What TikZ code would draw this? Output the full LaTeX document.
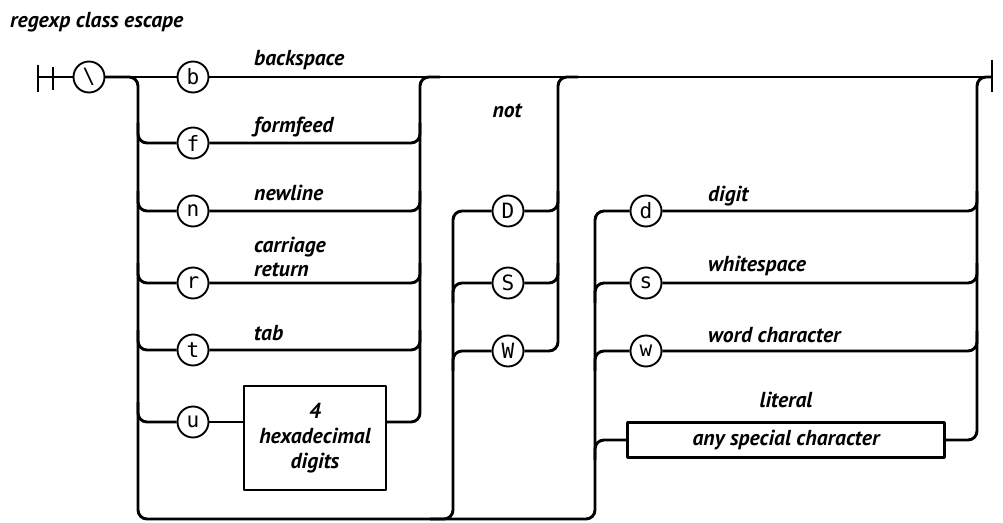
\documentclass[tikz,border=0pt]{standalone}
\usepackage{fontspec}
\setmainfont{PT Sans}
\newfontfamily\railmono{DejaVu Sans Mono}
\usetikzlibrary{calc}
\tikzset{
  term/.style={draw, circle, line width=1.6pt, inner sep=0pt, minimum size=9.3mm,
    font=\railmono\fontsize{18}{18}\selectfont},
  rulebox/.style={draw, line width=1.8pt, inner sep=0pt, align=center,
    font=\bfseries\itshape\fontsize{18.5}{21.5}\selectfont},
  rail/.style={line width=2.5pt, rounded corners=2.7mm},
  railtag/.style={anchor=base west, inner sep=0pt,
    font=\bfseries\itshape\fontsize{18.5}{20}\selectfont}
}

\begin{document}
\begin{tikzpicture}[
    x=0.3mm, y=-0.3mm,
    line join=round
  ]
  \useasboundingbox (0,0) rectangle (1003,523);

  % --- title -------------------------------------------------------------
  \node[railtag] (title) at (10,28) {regexp class escape};

  % --- terminals ---------------------------------------------------------
  \node[term] (bs) at (89,77) {\textbackslash};
  \node[term] (nb) at (193,77)  {b};
  \node[term] (nf) at (193,143) {f};
  \node[term] (nn) at (193,211) {n};
  \node[term] (nr) at (193,283) {r};
  \node[term] (nt) at (193,350) {t};
  \node[term] (nu) at (193,422) {u};
  \node[rulebox, minimum width=42.6mm, minimum height=31.2mm] (hex) at (315,438)
    {4\\hexadecimal\\digits};

  \node[term] (nD) at (508,211) {D};
  \node[term] (nS) at (508,283) {S};
  \node[term] (nW) at (508,351) {W};

  \node[term] (nd) at (646,211) {d};
  \node[term] (ns) at (646,283) {s};
  \node[term] (nw) at (646,351) {w};
  \node[rulebox, minimum width=95.1mm, minimum height=10.5mm] (lit) at (786,440)
    {any special character};

  % --- labels ------------------------------------------------------------
  \node[railtag] at (254,66)  {backspace};
  \node[railtag] at (254,133) {formfeed};
  \node[railtag] at (254,201) {newline};
  \node[railtag] at (254,253) {carriage};
  \node[railtag] at (254,277) {return};
  \node[railtag] at (254,340) {tab};
  \node[railtag, anchor=base] at (507,118) {not};
  \node[railtag] at (708,202) {digit};
  \node[railtag] at (708,272) {whitespace};
  \node[railtag] at (708,342) {word character};
  \node[railtag, anchor=base] at (786,407) {literal};

  % --- entry and exit ----------------------------------------------------
  \coordinate (beg) at (38,77);
  \coordinate (fin) at (992,77);
  \draw[rail] (38,65) -- (38,92);
  \draw[rail] (53,67) -- (53,90);
  \draw[rail] (992,60) -- (992,92);
  \draw[rail] (beg) -- (bs);
  \draw[rail] (bs) -- (nb);
  \draw[rail] (nb) -- (fin);

  % --- first choice: control escapes ------------------------------------
  \draw[rail] (bs.east) -- (138,77) -- (138,519) -- (595,519) -- (595,211) -- (nd);
  \foreach \n/\y in {nf/143, nn/211, nr/283, nt/350, nu/422} {
    \draw[rail] (138,\y-20) -- (138,\y) -- (\n);
  }
  \foreach \n/\y in {nf/143, nn/211, nr/283, nt/350} {
    \draw[rail] (\n) -- (420,\y) -- (420,\y-20);
  }
  \draw[rail] (nu) -- (nu -| hex.west);
  \draw[rail] (nu -| hex.east) -- (420,422) -- (420,77) -- (440,77);

  % --- negated classes ----------------------------------------------------
  \draw[rail] (430,519) -- (453,519) -- (453,211) -- (nD);
  \foreach \n/\y in {nS/283, nW/351} {
    \draw[rail] (453,\y+20) -- (453,\y) -- (\n);
  }
  \foreach \n/\y in {nD/211, nS/283} {
    \draw[rail] (\n) -- (558,\y) -- (558,\y-20);
  }
  \draw[rail] (nW) -- (558,351) -- (558,77) -- (578,77);

  % --- classes and literal --------------------------------------------------
  \foreach \n/\y in {ns/283, nw/351, lit/440} {
    \draw[rail] (595,\y+20) -- (595,\y) -- (\n);
  }
  \foreach \n/\y in {nd/211, ns/283, nw/351} {
    \draw[rail] (\n) -- (977,\y) -- (977,\y-20);
  }
  \draw[rail] (lit) -- (977,440) -- (977,77) -- (fin);

\end{tikzpicture}
\end{document}
